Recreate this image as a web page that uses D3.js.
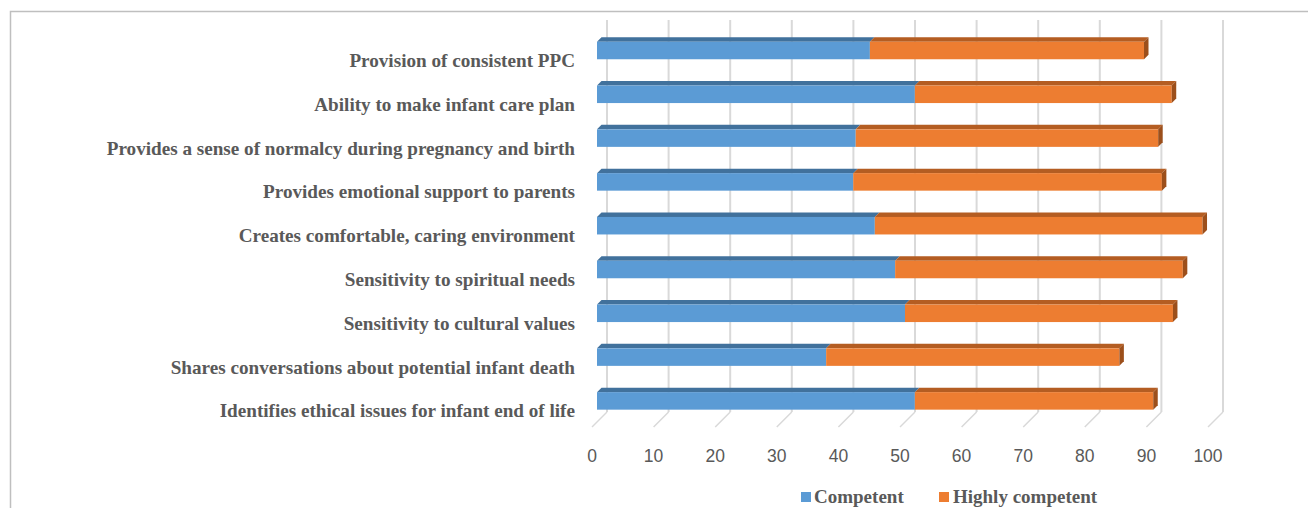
<!DOCTYPE html>
<html>
<head>
<meta charset="utf-8">
<script src="https://cdn.jsdelivr.net/npm/d3@7"></script>
<style>
  html, body { margin: 0; padding: 0; background: #fff; }
  svg { display: block; }
</style>
</head>
<body>
<svg id="chart" width="1308" height="508"></svg>
<script>
const categories = [
  "Provision of consistent PPC",
  "Ability to make infant care plan",
  "Provides a sense of normalcy during pregnancy and birth",
  "Provides emotional support to parents",
  "Creates comfortable, caring environment",
  "Sensitivity to spiritual needs",
  "Sensitivity to cultural values",
  "Shares conversations about potential infant death",
  "Identifies ethical issues for infant end of life"
];
const competent       = [44.3, 51.6, 42.0, 41.6, 45.1, 48.4, 50.0, 37.2, 51.6];
const highlyCompetent = [44.5, 41.7, 49.1, 50.1, 53.2, 46.7, 43.5, 47.6, 38.7];
const seriesNames = ["Competent", "Highly competent"];
const tickValues = [0, 10, 20, 30, 40, 50, 60, 70, 80, 90, 100];

const svg = d3.select("#chart");

// frame
svg.append("path")
  .attr("d", "M10.5,508 L10.5,11.5 L1308,11.5")
  .attr("fill", "none").attr("stroke", "#bfbfbf").attr("stroke-width", 1.5);

// scales
const x = d3.scaleLinear().domain([0, 100]).range([0, 616]);
const y = d3.scaleBand().domain(categories).range([28.6, 422.8])
  .paddingInner(0.6).paddingOuter(0.3);

const wallX = 607, barX = 597, floorX = 592;
const wallTop = 20, wallBottom = 412, floorDepth = 15;
const depth = 4.5;

// back wall gridlines + floor lines
const grid = svg.append("g");
tickValues.forEach(v => {
  const gx = wallX + x(v);
  grid.append("line").attr("x1", gx).attr("x2", gx)
    .attr("y1", wallTop).attr("y2", wallBottom)
    .attr("stroke", "#d9d9d9").attr("stroke-width", 2);
  grid.append("line").attr("x1", gx).attr("y1", wallBottom)
    .attr("x2", gx - floorDepth).attr("y2", wallBottom + floorDepth)
    .attr("stroke", "#d9d9d9").attr("stroke-width", 1.5);
});

// tick labels
svg.append("g").selectAll("text").data(tickValues).join("text")
  .attr("x", d => floorX + x(d)).attr("y", 462)
  .attr("text-anchor", "middle")
  .attr("font-family", "'Liberation Sans', Arial, sans-serif")
  .attr("font-size", 17.5).attr("fill", "#595959")
  .text(d => d);

// category labels
svg.append("g").selectAll("text").data(categories).join("text")
  .attr("x", 575).attr("y", d => y(d) + y.bandwidth() / 2 + 16.5)
  .attr("text-anchor", "end")
  .attr("font-family", "'Liberation Serif', 'Times New Roman', serif")
  .attr("font-weight", "bold").attr("font-size", 19.15).attr("fill", "#595959")
  .text(d => d);

// bars
const colors = [
  { front: "#5B9BD5", top: "#41719C", side: "#3A6690" },
  { front: "#ED7D31", top: "#B45D22", side: "#9C4F1B" }
];
const bars = svg.append("g");
categories.forEach((c, i) => {
  const y0 = y(c), h = y.bandwidth();
  const segs = [[0, competent[i]], [competent[i], competent[i] + highlyCompetent[i]]];
  segs.forEach((s, k) => {
    const x0 = barX + x(s[0]), x1 = barX + x(s[1]);
    const col = colors[k];
    // top face
    bars.append("path")
      .attr("d", `M${x0},${y0} L${x0 + depth},${y0 - depth} L${x1 + depth},${y0 - depth} L${x1},${y0} Z`)
      .attr("fill", col.top);
    // front face
    bars.append("rect").attr("x", x0).attr("y", y0)
      .attr("width", x1 - x0).attr("height", h)
      .attr("fill", col.front);
    if (k === 1) {
      bars.append("path")
        .attr("d", `M${x1},${y0} L${x1 + depth},${y0 - depth} L${x1 + depth},${y0 + h - depth} L${x1},${y0 + h} Z`)
        .attr("fill", col.side);
    }
  });
});

// legend
const legend = svg.append("g");
const legendItems = [
  { name: seriesNames[0], color: colors[0].front, sx: 801, tx: 814 },
  { name: seriesNames[1], color: colors[1].front, sx: 939, tx: 953 }
];
legendItems.forEach(it => {
  legend.append("rect").attr("x", it.sx).attr("y", 492)
    .attr("width", 10).attr("height", 10).attr("fill", it.color);
  legend.append("text").attr("x", it.tx).attr("y", 503)
    .attr("font-family", "'Liberation Serif', 'Times New Roman', serif")
    .attr("font-weight", "bold").attr("font-size", 19).attr("fill", "#595959")
    .text(it.name);
});
</script>
</body>
</html>
